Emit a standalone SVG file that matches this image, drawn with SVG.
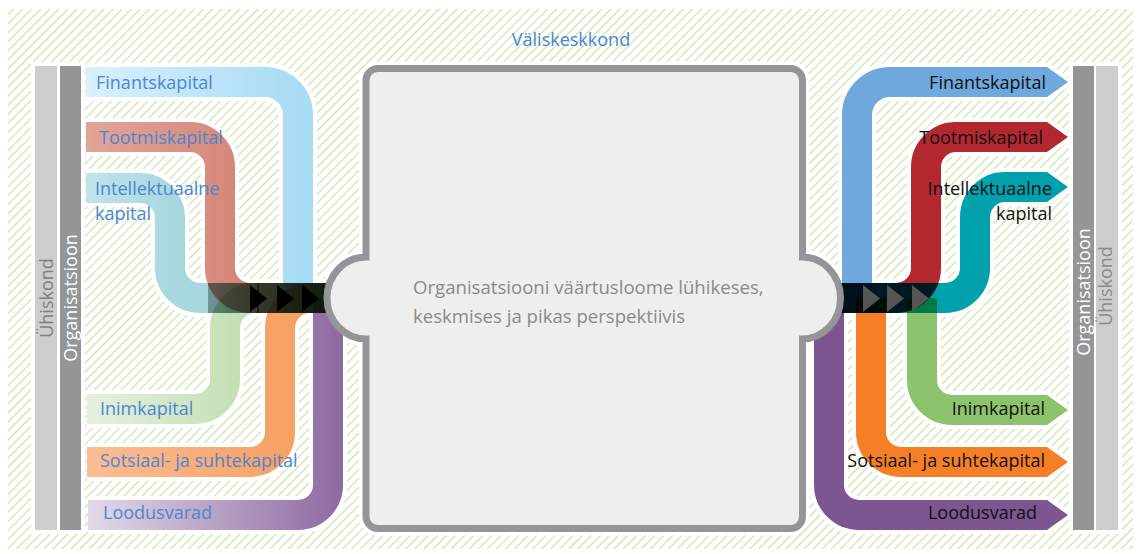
<svg xmlns="http://www.w3.org/2000/svg" width="1141" height="554" viewBox="0 0 1141 554">
<defs>
<pattern id="hatch" patternUnits="userSpaceOnUse" width="6.4" height="10" patternTransform="rotate(45)">
<rect width="6.4" height="10" fill="#fff"/>
<line x1="3.2" y1="0" x2="3.2" y2="10" stroke="#c5e0a3" stroke-width="1.1"/>
</pattern>
<linearGradient id="gF" gradientUnits="userSpaceOnUse" x1="86" y1="0" x2="300" y2="0"><stop offset="0" stop-color="#daf0fb"/><stop offset="1" stop-color="#a8dbf4"/></linearGradient>
<linearGradient id="gT" gradientUnits="userSpaceOnUse" x1="86" y1="0" x2="236" y2="0"><stop offset="0" stop-color="#e0a597"/><stop offset="1" stop-color="#d6877a"/></linearGradient>
<linearGradient id="gI" gradientUnits="userSpaceOnUse" x1="86" y1="0" x2="185" y2="0"><stop offset="0" stop-color="#c0e3e9"/><stop offset="1" stop-color="#a6d6de"/></linearGradient>
<linearGradient id="gH" gradientUnits="userSpaceOnUse" x1="86" y1="0" x2="241" y2="0"><stop offset="0" stop-color="#e6f0df"/><stop offset="1" stop-color="#c3dfb4"/></linearGradient>
<linearGradient id="gS" gradientUnits="userSpaceOnUse" x1="86" y1="0" x2="295" y2="0"><stop offset="0" stop-color="#fcbd93"/><stop offset="1" stop-color="#f7a062"/></linearGradient>
<linearGradient id="gL" gradientUnits="userSpaceOnUse" x1="88" y1="0" x2="343" y2="0"><stop offset="0" stop-color="#e1dae9"/><stop offset="1" stop-color="#8e68a0"/></linearGradient>
<linearGradient id="gDark" gradientUnits="userSpaceOnUse" x1="208" y1="0" x2="325" y2="0"><stop offset="0" stop-color="#0b1a12" stop-opacity="0.35"/><stop offset="1" stop-color="#0b1a12" stop-opacity="0.85"/></linearGradient>
<path id="tip" d="M0 -15 L21 0 L0 15 Z"/>
<path id="tri" d="M0 -13.5 L17 0 L0 13.5 Z"/>
</defs>
<style>
.t{font-family:"Open Sans","Noto Sans",sans-serif;font-size:18px}
.lb{fill:#4a86d4}
.rb{fill:#111}
.band{fill:none;stroke-width:30;mix-blend-mode:multiply}
.halo{fill:none;stroke:#fff;stroke-width:38}
.htip{fill:#fff;stroke:#fff;stroke-width:8;stroke-linejoin:round}
.box{fill:#eeeeee;stroke:#939598;stroke-width:7}
</style>
<rect x="0" y="0" width="1141" height="554" fill="#fff"/>
<rect id="background" x="8" y="9" width="1125" height="540" fill="url(#hatch)"/>
<text class="t lb" x="571" y="46" text-anchor="middle">Väliskeskkond</text>

<g id="bars-left">
<rect x="31" y="62" width="54" height="472" fill="#fff"/>
<rect x="35" y="66" width="22" height="464" fill="#cdcdcf"/>
<rect x="60" y="66" width="21" height="464" fill="#939598"/>
<text class="t" fill="#7f7f7f" transform="translate(46,298) rotate(-90)" x="0" y="7" text-anchor="middle">Ühiskond</text>
<text class="t" fill="#fff" transform="translate(70.5,298) rotate(-90)" x="0" y="6.5" text-anchor="middle">Organisatsioon</text>
</g>
<g id="bars-right">
<rect x="1069" y="62" width="53" height="472" fill="#fff"/>
<rect x="1073" y="66" width="21" height="464" fill="#939598"/>
<rect x="1096" y="66" width="22" height="464" fill="#cdcdcf"/>
<text class="t" fill="#fff" transform="translate(1083.5,292) rotate(-90)" x="0" y="6.5" text-anchor="middle">Organisatsioon</text>
<text class="t" fill="#8a8a8a" transform="translate(1107,286) rotate(-90)" x="0" y="5" text-anchor="middle">Ühiskond</text>
</g>

<path d="M378 68.5 H790 A12 12 0 0 1 802.5 80.5 V257 A38 41 0 0 1 802.5 339 V516.5 A12 12 0 0 1 790 528.5 H378 A12 12 0 0 1 366 516.5 V339 A39 41 0 0 1 366 257 V80.5 A12 12 0 0 1 378 68.5 Z" fill="#fff" stroke="#fff" stroke-width="14"/>

<g id="connectors" style="isolation:isolate">
<g class="halos">
<path class="halo" d="M86 82 H265 A33 33 0 0 1 298 115 V298 H330"/>
<path class="halo" d="M86 137 H190 A30 30 0 0 1 220 167 V268 A30 30 0 0 0 250 298 H330"/>
<path class="halo" d="M86 188 H140 A30 30 0 0 1 170 218 V268 A30 30 0 0 0 200 298 H330"/>
<path class="halo" d="M87 409 H195 A30 30 0 0 0 225 379 V328 A30 30 0 0 1 255 298 H330"/>
<path class="halo" d="M87 462 H250 A30 30 0 0 0 280 432 V328 A30 30 0 0 1 310 298 H330"/>
<path class="halo" d="M88 515 H298 A30 30 0 0 0 328 485 V298"/>
<path class="halo" d="M835 298 H857 V115 A33 33 0 0 1 890 82 H1047"/>
<path class="halo" d="M835 298 H896 A30 30 0 0 0 926 268 V167 A30 30 0 0 1 956 137 H1047"/>
<path class="halo" d="M835 298 H945 A30 30 0 0 0 975 268 V217 A30 30 0 0 1 1005 187 H1047"/>
<path class="halo" d="M1047 410 H952 A30 30 0 0 1 922 380 V298"/>
<path class="halo" d="M1047 462 H901 A30 30 0 0 1 871 432 V298"/>
<path class="halo" d="M1047 515 H859 A30 30 0 0 1 829 485 V298"/>
<use href="#tip" x="1047" y="82" class="htip"/>
<use href="#tip" x="1047" y="137" class="htip"/>
<use href="#tip" x="1047" y="187" class="htip"/>
<use href="#tip" x="1047" y="410" class="htip"/>
<use href="#tip" x="1047" y="462" class="htip"/>
<use href="#tip" x="1047" y="515" class="htip"/>
</g>
<path class="band" stroke="url(#gF)" d="M86 82 H265 A33 33 0 0 1 298 115 V298 H330"/>
<path class="band" stroke="url(#gT)" d="M86 137 H190 A30 30 0 0 1 220 167 V268 A30 30 0 0 0 250 298 H330"/>
<path class="band" stroke="url(#gI)" d="M86 188 H140 A30 30 0 0 1 170 218 V268 A30 30 0 0 0 200 298 H330"/>
<path class="band" stroke="url(#gH)" d="M87 409 H195 A30 30 0 0 0 225 379 V328 A30 30 0 0 1 255 298 H330"/>
<path class="band" stroke="url(#gS)" d="M87 462 H250 A30 30 0 0 0 280 432 V328 A30 30 0 0 1 310 298 H330"/>
<path class="band" stroke="url(#gL)" d="M88 515 H298 A30 30 0 0 0 328 485 V298"/>
<rect x="208" y="283" width="122" height="30" fill="url(#gDark)"/>
<g style="mix-blend-mode:multiply">
<path fill="none" stroke-width="30" stroke="#6fa8dc" d="M835 298 H857 V115 A33 33 0 0 1 890 82 H1047"/>
<use href="#tip" x="1047" y="82" fill="#6fa8dc"/>
</g>
<g style="mix-blend-mode:multiply">
<path fill="none" stroke-width="30" stroke="#b3282e" d="M835 298 H896 A30 30 0 0 0 926 268 V167 A30 30 0 0 1 956 137 H1047"/>
<use href="#tip" x="1047" y="137" fill="#b3282e"/>
</g>
<g style="mix-blend-mode:multiply">
<path fill="none" stroke-width="30" stroke="#00a0ad" d="M835 298 H945 A30 30 0 0 0 975 268 V217 A30 30 0 0 1 1005 187 H1047"/>
<use href="#tip" x="1047" y="187" fill="#00a0ad"/>
</g>
<g style="mix-blend-mode:multiply">
<path fill="none" stroke-width="30" stroke="#8dc36d" d="M1047 410 H952 A30 30 0 0 1 922 380 V298"/>
<use href="#tip" x="1047" y="410" fill="#8dc36d"/>
</g>
<g style="mix-blend-mode:multiply">
<path fill="none" stroke-width="30" stroke="#f47f26" d="M1047 462 H901 A30 30 0 0 1 871 432 V298"/>
<use href="#tip" x="1047" y="462" fill="#f47f26"/>
</g>
<g style="mix-blend-mode:multiply">
<path fill="none" stroke-width="30" stroke="#7d5590" d="M1047 515 H859 A30 30 0 0 1 829 485 V298"/>
<use href="#tip" x="1047" y="515" fill="#7d5590"/>
</g>
<line x1="258" y1="283" x2="258" y2="313" stroke="#000" stroke-width="1"/>
<use href="#tri" x="250" y="298.5" fill="#000"/>
<use href="#tri" x="277" y="298.5" fill="#000"/>
<use href="#tri" x="302" y="298.5" fill="#000"/>
<use href="#tri" x="863" y="298.5" fill="#555"/>
<use href="#tri" x="887" y="298.5" fill="#555"/>
<use href="#tri" x="912" y="298.5" fill="#555"/>
</g>

<g id="center">
<path class="box" d="M378 68.5 H790 A12 12 0 0 1 802.5 80.5 V257 A38 41 0 0 1 802.5 339 V516.5 A12 12 0 0 1 790 528.5 H378 A12 12 0 0 1 366 516.5 V339 A39 41 0 0 1 366 257 V80.5 A12 12 0 0 1 378 68.5 Z"/>
<text class="t" fill="#8a8a8a" x="413" y="294" style="font-size:18.6px">Organisatsiooni väärtusloome lühikeses,</text>
<text class="t" fill="#8a8a8a" x="413" y="323" style="font-size:18.6px">keskmises ja pikas perspektiivis</text>
</g>

<g id="in-finantskapital"><text class="t lb" x="96" y="89">Finantskapital</text></g>
<g id="in-tootmiskapital"><text class="t lb" x="99" y="144">Tootmiskapital</text></g>
<g id="in-intellektuaalne"><text class="t lb" x="95" y="195">Intellektuaalne</text><text class="t lb" x="95" y="220">kapital</text></g>
<g id="in-inimkapital"><text class="t lb" x="100" y="415">Inimkapital</text></g>
<g id="in-sotsiaal"><text class="t lb" x="100" y="467">Sotsiaal- ja suhtekapital</text></g>
<g id="in-loodusvarad"><text class="t lb" x="103" y="519">Loodusvarad</text></g>

<g id="out-finantskapital"><text class="t rb" x="1046" y="89" text-anchor="end">Finantskapital</text></g>
<g id="out-tootmiskapital"><text class="t rb" x="1043" y="144" text-anchor="end">Tootmiskapital</text></g>
<g id="out-intellektuaalne"><text class="t rb" x="1052" y="195" text-anchor="end">Intellektuaalne</text><text class="t rb" x="1052" y="220" text-anchor="end">kapital</text></g>
<g id="out-inimkapital"><text class="t rb" x="1045" y="415" text-anchor="end">Inimkapital</text></g>
<g id="out-sotsiaal"><text class="t rb" x="1045" y="467" text-anchor="end">Sotsiaal- ja suhtekapital</text></g>
<g id="out-loodusvarad"><text class="t rb" x="1037" y="519" text-anchor="end">Loodusvarad</text></g>
</svg>
